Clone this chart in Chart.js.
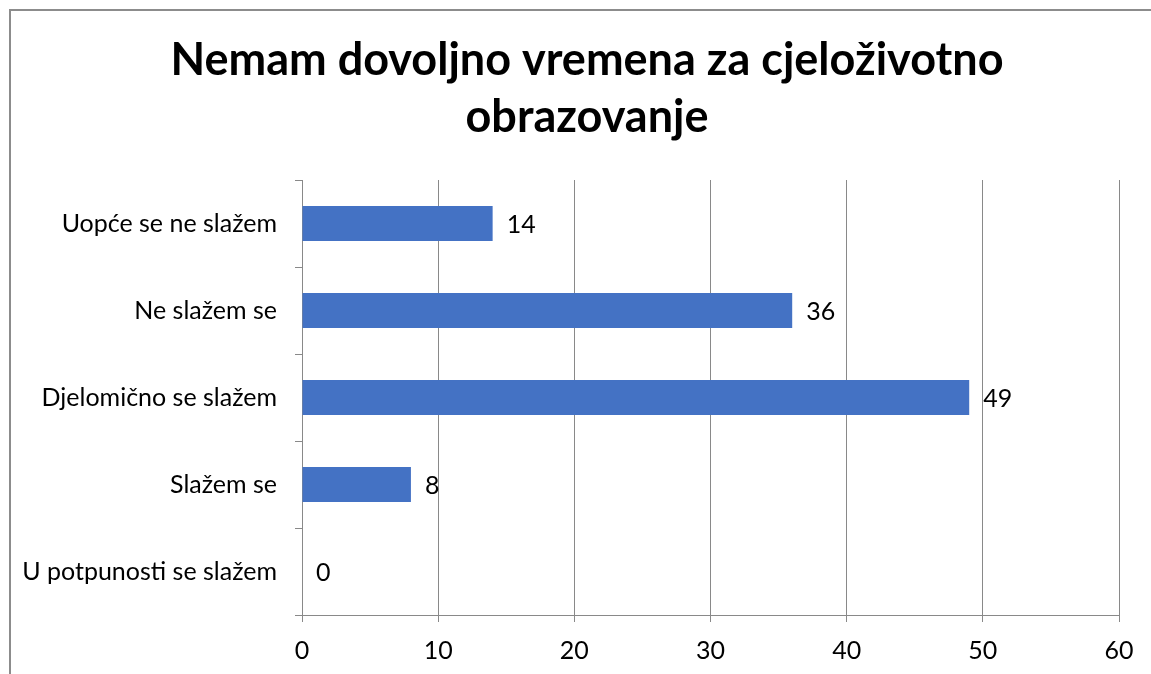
<!DOCTYPE html>
<html>
<head>
<meta charset="utf-8">
<script src="https://cdn.jsdelivr.net/npm/chart.js@4"></script>
<style>
  html, body { margin: 0; padding: 0; background: #fff; }
  canvas { display: block; }
</style>
</head>
<body>
<canvas id="chart" width="1151" height="674"></canvas>
<script>
const titleLines = ['Nemam dovoljno vremena za cjeloživotno', 'obrazovanje'];
const categories = ['Uopće se ne slažem', 'Ne slažem se', 'Djelomično se slažem', 'Slažem se', 'U potpunosti se slažem'];
const values = [14, 36, 49, 8, 0];
const xMin = 0, xMax = 60, xStep = 10;

const FONT = 'Lato';
const gridGray = '#898989';

// white background + outer frame (only top and left edges show)
const framePlugin = {
  id: 'frame',
  beforeDraw(chart) {
    const ctx = chart.ctx;
    ctx.save();
    ctx.fillStyle = '#fff';
    ctx.fillRect(0, 0, chart.width, chart.height);
    ctx.strokeStyle = '#8c8c8c';
    ctx.lineWidth = 2;
    ctx.strokeRect(10, 10, chart.width + 20, chart.height + 20);
    ctx.restore();
  }
};

// title is centred on the frame, not on the plot, so draw it by hand
const titlePlugin = {
  id: 'bigTitle',
  afterDraw(chart) {
    const ctx = chart.ctx;
    ctx.save();
    ctx.font = `bold 45px ${FONT}`;
    ctx.fillStyle = '#000';
    ctx.textAlign = 'center';
    ctx.textBaseline = 'alphabetic';
    titleLines.forEach((line, i) => ctx.fillText(line, 587, 75 + i * 57));
    ctx.restore();
  }
};

// value labels right of each bar
const valueLabels = {
  id: 'valueLabels',
  afterDatasetsDraw(chart) {
    const ctx = chart.ctx;
    const meta = chart.getDatasetMeta(0);
    ctx.save();
    ctx.font = `25px ${FONT}`;
    ctx.fillStyle = '#000';
    ctx.textAlign = 'left';
    ctx.textBaseline = 'middle';
    meta.data.forEach((bar, i) => {
      ctx.fillText(String(values[i]), bar.x + 14, bar.y + 1);
    });
    ctx.restore();
  }
};

new Chart(document.getElementById('chart'), {
  type: 'bar',
  data: {
    labels: categories,
    datasets: [{
      data: values,
      backgroundColor: '#4472C4',
      borderWidth: 0,
      categoryPercentage: 1,
      barPercentage: 0.4
    }]
  },
  options: {
    indexAxis: 'y',
    responsive: false,
    animation: false,
    devicePixelRatio: 1,
    layout: { padding: { left: 9, right: 32, top: 180, bottom: 0 } },
    plugins: {
      legend: { display: false },
      tooltip: { enabled: false },
      title: { display: false }
    },
    scales: {
      x: {
        min: xMin, max: xMax,
        ticks: { stepSize: xStep, color: '#000', font: { family: FONT, size: 25 }, padding: 14 },
        grid: { color: gridGray, tickLength: 7, drawOnChartArea: true },
        border: { color: gridGray },
        afterFit(scale) { scale.height = 59; }
      },
      y: {
        offset: true,
        ticks: { color: '#000', font: { family: FONT, size: 25 }, padding: 18 },
        grid: { color: gridGray, tickLength: 7, drawOnChartArea: false, offset: true },
        border: { color: gridGray },
        afterFit(scale) { scale.width = 293; }
      }
    }
  },
  plugins: [framePlugin, titlePlugin, valueLabels]
});
</script>
</body>
</html>
